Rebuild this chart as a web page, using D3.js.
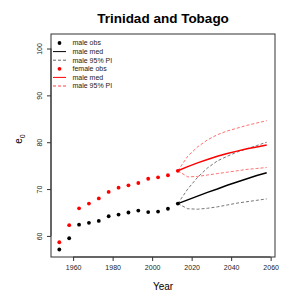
<!DOCTYPE html>
<html>
<head>
<meta charset="utf-8">
<script src="https://cdn.jsdelivr.net/npm/d3@7"></script>
<style>
  body { margin: 0; background: #fff; }
  text { font-family: "Liberation Sans", Arial, sans-serif; }
</style>
</head>
<body>
<div id="chart"></div>
<script>
// observed years and e0
const obsYears = [1953, 1958, 1963, 1968, 1973, 1978, 1983, 1988, 1993, 1998, 2003, 2008, 2013];
const maleObs = [57.1, 59.5, 62.4, 62.8, 63.2, 64.2, 64.55, 65.0, 65.4, 65.1, 65.2, 65.8, 66.9];
const femaleObs = [58.65, 62.3, 65.9, 66.9, 68.0, 69.4, 70.3, 70.8, 71.3, 72.2, 72.5, 72.95, 73.9];

// projections
const projYears = [2013, 2018, 2023, 2028, 2033, 2038, 2043, 2048, 2053, 2058];
const maleMed = [66.9, 67.7, 68.5, 69.3, 70.0, 70.8, 71.5, 72.2, 72.9, 73.5];
const maleLow = [66.9, 65.8, 65.7, 65.9, 66.2, 66.6, 67.0, 67.3, 67.6, 67.9];
const maleHigh = [66.9, 70.0, 72.5, 74.5, 76.0, 77.0, 77.9, 78.6, 79.3, 80.0];
const femaleMed = [73.9, 74.8, 75.6, 76.3, 77.0, 77.6, 78.1, 78.6, 79.0, 79.4];
const femaleLow = [73.9, 72.6, 72.7, 73.0, 73.3, 73.6, 73.9, 74.2, 74.4, 74.6];
const femaleHigh = [73.9, 77.0, 79.0, 80.5, 81.6, 82.4, 83.0, 83.6, 84.1, 84.6];

const xTicks = [1960, 1980, 2000, 2020, 2040, 2060];
const yTicks = [60, 70, 80, 90, 100];

const legendItems = [
  { label: "male obs", kind: "point", color: "#000" },
  { label: "male med", kind: "line", color: "#000", dash: null, width: 1 },
  { label: "male 95% PI", kind: "line", color: "#666", dash: "3,2", width: 1 },
  { label: "female obs", kind: "point", color: "#f00" },
  { label: "male med", kind: "line", color: "#f00", dash: null, width: 1 },
  { label: "male 95% PI", kind: "line", color: "#ff8080", dash: "3,2", width: 1.4 }
];

const W = 301, H = 301;
const margin = { top: 34, right: 26, bottom: 44, left: 51 };

const svg = d3.select("#chart").append("svg")
  .attr("width", W).attr("height", H);

const x = d3.scaleLinear().domain([1948.8, 2062.2]).range([margin.left, W - margin.right]);
const y = d3.scaleLinear().domain([55.5, 103.1]).range([H - margin.bottom, margin.top]);

// title
svg.append("text")
  .attr("x", 163).attr("y", 23)
  .attr("text-anchor", "middle")
  .style("font-size", "13.5px").style("font-weight", "bold")
  .text("Trinidad and Tobago");

// axes
const xAxis = svg.append("g")
  .attr("transform", `translate(0,${H - margin.bottom})`)
  .call(d3.axisBottom(x).tickValues(xTicks).tickFormat(d3.format("d")).tickSize(4).tickPadding(4));
const yAxis = svg.append("g")
  .attr("transform", `translate(${margin.left},0)`)
  .call(d3.axisLeft(y).tickValues(yTicks).tickSize(4).tickPadding(3));

[xAxis, yAxis].forEach(g => {
  g.select(".domain").attr("stroke", "#333");
  g.selectAll(".tick line").attr("stroke", "#333");
  g.selectAll(".tick text").style("font-size", "7px").attr("fill", "#222")
    .style("font-family", "'Liberation Sans', Arial, sans-serif");
});
xAxis.select(".domain").attr("d", `M${x(1960)},0H${x(2060)}`);
yAxis.select(".domain").attr("d", `M0,${y(60)}V${y(100)}`);
yAxis.selectAll(".tick text")
  .attr("text-anchor", "middle")
  .attr("x", 0).attr("y", 0)
  .attr("dy", "0.35em")
  .attr("transform", "translate(-11,0) rotate(-90)");

// box
svg.append("rect")
  .attr("x", margin.left).attr("y", margin.top)
  .attr("width", W - margin.right - margin.left)
  .attr("height", H - margin.bottom - margin.top)
  .attr("fill", "none").attr("stroke", "#333").attr("stroke-width", 1);

// axis labels
svg.append("text")
  .attr("x", 163).attr("y", 289.5)
  .attr("text-anchor", "middle")
  .style("font-size", "10px")
  .text("Year");

const ylab = svg.append("text")
  .attr("transform", `translate(22,139) rotate(-90)`)
  .attr("text-anchor", "middle")
  .style("font-size", "10px");
ylab.append("tspan").text("e");
ylab.append("tspan").attr("dy", 2.5).style("font-size", "7px").text("0");

// lines
const line = d3.line().x(d => x(d[0])).y(d => y(d[1]));
const zipProj = vals => projYears.map((yr, i) => [yr, vals[i]]);

const series = [
  { vals: maleLow, color: "#666", dash: "3,2", width: 0.9 },
  { vals: maleHigh, color: "#666", dash: "3,2", width: 0.9 },
  { vals: femaleLow, color: "#ff7070", dash: "3,2", width: 1 },
  { vals: femaleHigh, color: "#ff7070", dash: "3,2", width: 1 },
  { vals: maleMed, color: "#000", dash: null, width: 1.5 },
  { vals: femaleMed, color: "#f00", dash: null, width: 1.5 }
];
series.forEach(s => {
  svg.append("path")
    .attr("d", line(zipProj(s.vals)))
    .attr("fill", "none")
    .attr("stroke", s.color)
    .attr("stroke-width", s.width)
    .attr("stroke-dasharray", s.dash);
});

// observed points
svg.append("g").selectAll("circle")
  .data(obsYears.map((yr, i) => [yr, femaleObs[i]]))
  .join("circle")
  .attr("cx", d => x(d[0])).attr("cy", d => y(d[1]))
  .attr("r", 1.9).attr("fill", "#f00");
svg.append("g").selectAll("circle")
  .data(obsYears.map((yr, i) => [yr, maleObs[i]]))
  .join("circle")
  .attr("cx", d => x(d[0])).attr("cy", d => y(d[1]))
  .attr("r", 1.9).attr("fill", "#000");

// legend
const lg = svg.append("g");
legendItems.forEach((it, i) => {
  const ly = 43 + i * 8.6;
  if (it.kind === "point") {
    lg.append("circle").attr("cx", 59.5).attr("cy", ly).attr("r", 1.9).attr("fill", it.color);
  } else {
    lg.append("line")
      .attr("x1", 53).attr("x2", 66).attr("y1", ly).attr("y2", ly)
      .attr("stroke", it.color).attr("stroke-width", it.width)
      .attr("stroke-dasharray", it.dash);
  }
  lg.append("text")
    .attr("x", 72.5).attr("y", ly).attr("dy", "0.35em")
    .style("font-size", "7px").attr("fill", "#222")
    .text(it.label);
});
</script>
</body>
</html>
